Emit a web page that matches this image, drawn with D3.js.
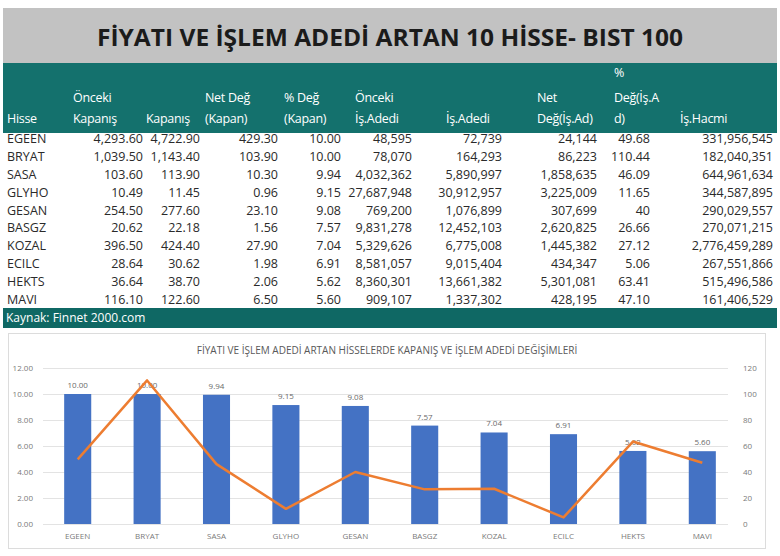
<!DOCTYPE html>
<html lang="tr">
<head>
<meta charset="UTF-8">
<title>Fiyatı ve işlem adedi artan 10 hisse</title>
<script src="https://d3js.org/d3.v7.min.js"></script>
<style>
  body { margin: 0; background: #fff; }
  svg text { font-family: "Open Sans", "DejaVu Sans", sans-serif; }
</style>
</head>
<body>
<div id="chart"></div>
<script>
// table + chart data
const hisse = ["EGEEN", "BRYAT", "SASA", "GLYHO", "GESAN", "BASGZ", "KOZAL", "ECILC", "HEKTS", "MAVI"];
const oncekiKapanis = [4293.60, 1039.50, 103.60, 10.49, 254.50, 20.62, 396.50, 28.64, 36.64, 116.10];
const kapanis = [4722.90, 1143.40, 113.90, 11.45, 277.60, 22.18, 424.40, 30.62, 38.70, 122.60];
const netDegKapan = [429.30, 103.90, 10.30, 0.96, 23.10, 1.56, 27.90, 1.98, 2.06, 6.50];
const pctDegKapan = [10.00, 10.00, 9.94, 9.15, 9.08, 7.57, 7.04, 6.91, 5.62, 5.60];
const oncekiIsAdedi = [48595, 78070, 4032362, 27687948, 769200, 9831278, 5329626, 8581057, 8360301, 909107];
const isAdedi = [72739, 164293, 5890997, 30912957, 1076899, 12452103, 6775008, 9015404, 13661382, 1337302];
const netDegIsAd = [24144, 86223, 1858635, 3225009, 307699, 2620825, 1445382, 434347, 5301081, 428195];
const pctDegIsAd = [49.68, 110.44, 46.09, 11.65, 40, 26.66, 27.12, 5.06, 63.41, 47.10];
const isHacmi = [331956545, 182040351, 644961634, 344587895, 290029557, 270071215, 2776459289, 267551866, 515496586, 161406529];

const leftTicks = [0, 2, 4, 6, 8, 10, 12];
const rightTicks = [0, 20, 40, 60, 80, 100, 120];

const title = "FİYATI VE İŞLEM ADEDİ ARTAN 10 HİSSE- BIST 100";
const chartTitle = "FİYATI VE İŞLEM ADEDİ ARTAN HİSSELERDE KAPANIŞ VE İŞLEM ADEDİ DEĞİŞİMLERİ";
const source = "Kaynak: Finnet 2000.com";

const W = 780, H = 556;
const teal = "#14716d";

const svg = d3.select("#chart").append("svg")
    .attr("width", W).attr("height", H);

// ---- title band
svg.append("rect").attr("x", 3).attr("y", 8).attr("width", 774).attr("height", 55)
   .attr("fill", "#c2c2c2");
svg.append("text").attr("x", 390).attr("y", 46)
   .attr("text-anchor", "middle")
   .attr("font-size", 24).attr("font-weight", "bold").attr("fill", "#1b1b1b")
   .attr("textLength", 586).attr("lengthAdjust", "spacingAndGlyphs")
   .text(title);

// ---- table
const f2 = d3.format(",.2f"), f0 = d3.format(",");
const pctFmt = v => Number.isInteger(v) ? String(v) : v.toFixed(2);

const columns = [
  { head: ["", "", "Hisse"], hx: 7, values: hisse, anchor: "start", x: 7, fmt: d => d },
  { head: ["", "Önceki", "Kapanış"], hx: 73, values: oncekiKapanis, x: 143, fmt: f2 },
  { head: ["", "", "Kapanış"], hx: 146, values: kapanis, x: 200, fmt: f2 },
  { head: ["", "Net Değ", "(Kapan)"], hx: 205, values: netDegKapan, x: 278, fmt: f2 },
  { head: ["", "% Değ", "(Kapan)"], hx: 284, values: pctDegKapan, x: 341, fmt: d => d.toFixed(2) },
  { head: ["", "Önceki", "İş.Adedi"], hx: 355, values: oncekiIsAdedi, x: 412, fmt: f0 },
  { head: ["", "", "İş.Adedi"], hx: 446, values: isAdedi, x: 502, fmt: f0 },
  { head: ["", "Net", "Değ(İş.Ad)"], hx: 537, values: netDegIsAd, x: 597, fmt: f0 },
  { head: ["%", "Değ(İş.A", "d)"], hx: 614, values: pctDegIsAd, x: 650, fmt: pctFmt },
  { head: ["", "", "İş.Hacmi"], hx: 680, values: isHacmi, x: 773, fmt: f0 }
];

svg.append("rect").attr("x", 3).attr("y", 63).attr("width", 774).attr("height", 70)
   .attr("fill", teal);

const headY = [77, 102, 123];
columns.forEach(c => {
  c.head.forEach((line, i) => {
    if (!line) return;
    svg.append("text").attr("x", c.hx).attr("y", headY[i])
       .attr("font-size", 12.5).attr("letter-spacing", -0.3).attr("fill", "#fff")
       .text(line);
  });
});

const rowY = d3.scaleBand().domain(hisse).range([130, 308]);
columns.forEach(c => {
  svg.append("g").selectAll("text").data(c.values).join("text")
     .attr("x", c.x)
     .attr("y", (d, i) => rowY(hisse[i]) + rowY.bandwidth() / 2 + 4.5)
     .attr("text-anchor", c.anchor || "end")
     .attr("font-size", 12.5).attr("fill", "#2a2a2a")
     .text(c.fmt);
});

// footer
svg.append("rect").attr("x", 3).attr("y", 308).attr("width", 774).attr("height", 20)
   .attr("fill", "#0f6864");
svg.append("text").attr("x", 6).attr("y", 322).attr("font-size", 12).attr("fill", "#fff")
   .text(source);

// ---- chart
svg.append("rect").attr("x", 8.5).attr("y", 333.5).attr("width", 757).attr("height", 215)
   .attr("fill", "#fff").attr("stroke", "#dcdcdc");

svg.append("text").attr("x", 387).attr("y", 354)
   .attr("text-anchor", "middle").attr("font-size", 10).attr("fill", "#595959")
   .text(chartTitle);

const x = d3.scaleBand().domain(hisse).range([43, 737]).paddingInner(0.61).paddingOuter(0.305);
const yL = d3.scaleLinear().domain([0, 12]).range([524, 368]);
const yR = d3.scaleLinear().domain([0, 120]).range([524, 368]);

// gridlines
svg.append("g").selectAll("line").data(leftTicks).join("line")
   .attr("x1", 43).attr("x2", 728)
   .attr("y1", d => yL(d) + 0.5).attr("y2", d => yL(d) + 0.5)
   .attr("stroke", "#e3e3e3");

const axL = svg.append("g").attr("transform", "translate(43,0)")
   .call(d3.axisLeft(yL).tickValues(leftTicks).tickFormat(d3.format(".2f")).tickSize(0).tickPadding(10));
const axR = svg.append("g").attr("transform", "translate(733,0)")
   .call(d3.axisRight(yR).tickValues(rightTicks).tickSize(0).tickPadding(10));
const axB = svg.append("g").attr("transform", "translate(0,524)")
   .call(d3.axisBottom(x).tickSize(0).tickPadding(9));
[axL, axR, axB].forEach(a => {
  a.select(".domain").remove();
  a.selectAll("text").attr("font-size", 8).attr("fill", "#7a7a7a")
   .attr("font-family", "\"Open Sans\", sans-serif");
});

// bars
svg.append("g").selectAll("rect").data(pctDegKapan).join("rect")
   .attr("x", (d, i) => x(hisse[i]))
   .attr("y", d => yL(d))
   .attr("width", x.bandwidth())
   .attr("height", d => yL(0) - yL(d))
   .attr("fill", "#4472c4");

svg.append("g").selectAll("text").data(pctDegKapan).join("text")
   .attr("x", (d, i) => x(hisse[i]) + x.bandwidth() / 2)
   .attr("y", d => yL(d) - 6)
   .attr("text-anchor", "middle").attr("font-size", 8).attr("fill", "#6a6a6a")
   .text(d => d.toFixed(2));

// line
const line = d3.line()
   .x((d, i) => x(hisse[i]) + x.bandwidth() / 2)
   .y(d => yR(d));
svg.append("path").datum(pctDegIsAd)
   .attr("fill", "none").attr("stroke", "#ed7d31").attr("stroke-width", 2.5)
   .attr("stroke-linejoin", "round")
   .attr("d", line);
</script>
</body>
</html>
